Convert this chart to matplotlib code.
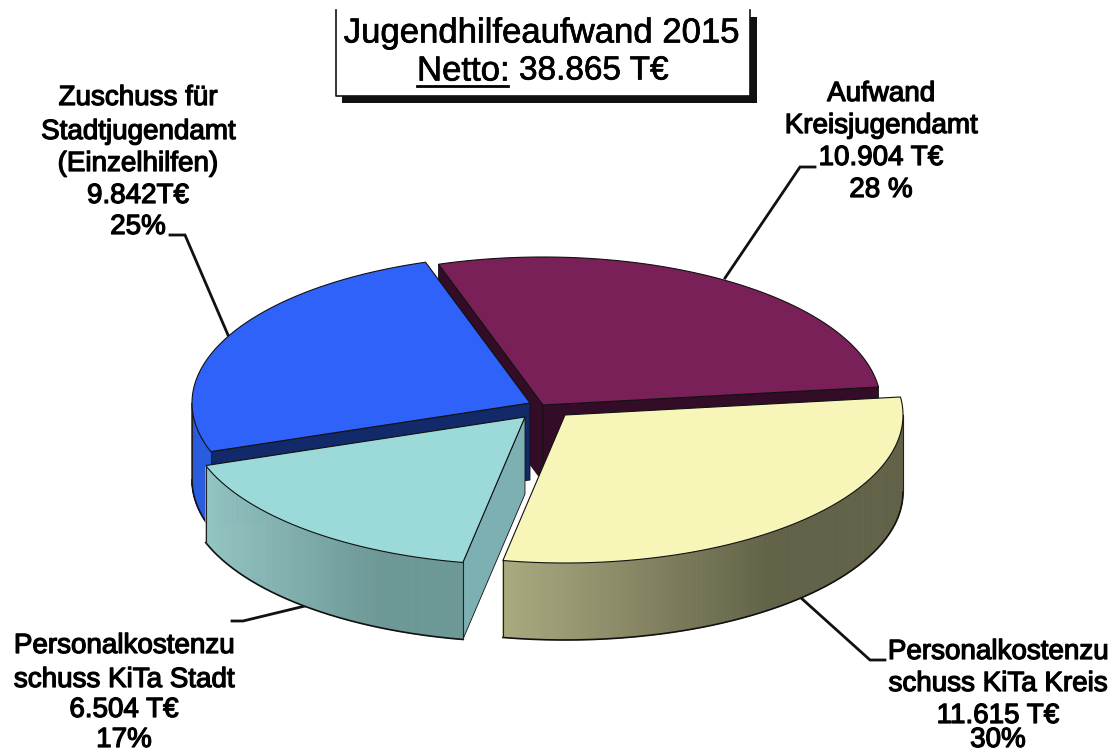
import numpy as np
import matplotlib
matplotlib.use("Agg")
import matplotlib.pyplot as plt
import matplotlib.patheffects as pe
from matplotlib.collections import PolyCollection
from matplotlib.colors import to_rgb
from matplotlib.patches import Polygon, Rectangle

plt.rcParams['font.family'] = ['Liberation Sans', 'DejaVu Sans']

# values in T€, clockwise from the top of the pie
names = ["Aufwand Kreisjugendamt", "Personalkosten KiTa Kreis", "Personalkosten KiTa Stadt", "Zuschuss Stadtjugendamt"]
values = [10904, 11615, 6504, 9842]
title_lines = ["Jugendhilfeaufwand 2015", "Netto:", "38.865 T€"]
label_lines = [
    ["Aufwand", "Kreisjugendamt", "10.904 T€", "28 %"],
    ["Personalkostenzu", "schuss KiTa Kreis", "11.615 T€", "30%"],
    ["Personalkostenzu", "schuss KiTa Stadt", "6.504 T€", "17%"],
    ["Zuschuss für", "Stadtjugendamt", "(Einzelhilfen)", "9.842T€", "25%"],
]

# layout in image pixels
W, H = 1114, 753
RX, RY, DEPTH = 338, 148, 77
START = 108
centers = [(543, 405), (565, 415), (525, 417), (530, 403)]
top_cols = ["#7a2059", "#f7f6b8", "#9bdad8", "#2f62f8"]
side_cols = [("#4a1238", "#4a1238"), ("#aaaa80", "#626248"), ("#93c5c3", "#6c9896"), ("#2a5ce0", "#2a5ce0")]
cut_cols = ["#330c28", "#626248", "#7db0b2", "#12296a"]
label_pos = [(881, [94, 126, 158, 190]), (998, [652, 684, 716, 740]),
             (124, [646, 680, 710, 740]), (138, [98, 132, 164, 196, 227])]
leaders = [[(725, 278), (800, 167), (815, 167)], [(800, 597), (870, 660), (885, 660)],
           [(305, 606), (243, 621), (232, 621)], [(228, 335), (185, 235), (170, 235)]]
# paint order of the slices: back ones low, exploded front ones high
layer = [1, 4, 3, 2]

fig = plt.figure(figsize=(W / 100, H / 100), dpi=100)
ax = fig.add_axes([0, 0, 1, 1])
ax.set_xlim(0, W)
ax.set_ylim(H, 0)
ax.axis("off")


def arc(i, a0, a1, n=120):
    t = np.radians(np.linspace(a0, a1, n))
    return centers[i][0] + RX * np.cos(t), centers[i][1] - RY * np.sin(t)


def draw_side(i, a0, a1):
    # outer wall with a left to right gradient
    x, y = arc(i, a0, a1, 160)
    z = layer[i] + 0.2
    c0, c1 = np.array(to_rgb(side_cols[i][0])), np.array(to_rgb(side_cols[i][1]))
    span = x.max() - x.min()
    quads, cols = [], []
    for k in range(len(x) - 1):
        quads.append([(x[k], y[k]), (x[k + 1], y[k + 1]), (x[k + 1], y[k + 1] + DEPTH), (x[k], y[k] + DEPTH)])
        f = min(1, 1.5 * (min(x[k], x[k + 1]) - x.min()) / span)
        cols.append(c0 + (c1 - c0) * f)
    ax.add_collection(PolyCollection(quads, facecolors=cols, edgecolors=cols, linewidths=0.6, zorder=z))
    ax.plot(x, y + DEPTH, color="#111111", lw=1.2, zorder=z)
    ax.plot([x[0], x[0]], [y[0], y[0] + DEPTH], color="#222222", lw=0.8, zorder=z)
    ax.plot([x[-1], x[-1]], [y[-1], y[-1] + DEPTH], color="#222222", lw=0.8, zorder=z)


def draw_cut(i, ang, col):
    # flat cut face between apex and rim point
    cx, cy = centers[i]
    x, y = arc(i, ang, ang, 1)
    ax.add_patch(Polygon([(cx, cy), (x[0], y[0]), (x[0], y[0] + DEPTH), (cx, cy + DEPTH)],
                         closed=True, fc=col, ec="#111111", lw=0.6, zorder=layer[i] + 0.1))


def draw_top(i, a0, a1):
    x, y = arc(i, a0, a1)
    pts = [centers[i]] + list(zip(x, y))
    ax.add_patch(Polygon(pts, closed=True, fc=top_cols[i], ec="#111111", lw=0.8, zorder=layer[i] + 0.3))


sweeps = np.array(values) / sum(values) * 360
ends = START - np.cumsum(sweeps)
starts = np.concatenate([[START], ends[:-1]])

for pts in leaders:
    ax.plot(*zip(*pts), color="#111111", lw=2.0, solid_joinstyle="miter", zorder=0.5)

draw_cut(0, starts[0], cut_cols[0])
draw_cut(0, ends[0], cut_cols[0])
draw_top(0, starts[0], ends[0])

draw_side(3, -180, starts[3])
draw_cut(3, starts[3], cut_cols[3])
draw_top(3, starts[3], ends[3])

draw_side(2, starts[2], ends[2])
draw_cut(2, starts[2], cut_cols[2])
draw_top(2, starts[2], ends[2])

draw_side(1, ends[1], 0)
draw_top(1, starts[1], ends[1])

stroke = [pe.withStroke(linewidth=0.9, foreground="black")]
for (cx, ys), lines in zip(label_pos, label_lines):
    for y, s in zip(ys, lines):
        ax.text(cx, y, s, ha="center", va="center", fontsize=20, color="black", path_effects=stroke, zorder=6)

# title box with hard shadow, top edge is cut off in the original
ax.add_patch(Rectangle((342, 96), 415, 7, fc="#111111", ec="none", zorder=5))
ax.add_patch(Rectangle((750, 17), 7, 86, fc="#111111", ec="none", zorder=5))
ax.add_patch(Rectangle((336, 10), 414, 86, fc="white", ec="none", zorder=5))
ax.plot([336, 336, 750, 750], [10, 96, 96, 10], color="#111111", lw=1.2, zorder=5)
thin = [pe.withStroke(linewidth=0.5, foreground="black")]
ax.text(542, 33, title_lines[0], ha="center", va="center", fontsize=25, color="black", path_effects=thin, zorder=6)
ax.text(417, 71, title_lines[1], ha="left", va="center", fontsize=25, color="black", path_effects=thin, zorder=6)
ax.plot([417, 508], [86, 86], color="black", lw=2, zorder=6)
ax.text(519, 71, title_lines[2], ha="left", va="center", fontsize=24, color="black", path_effects=thin, zorder=6)

fig.savefig("out.png", dpi=100, facecolor="white")
